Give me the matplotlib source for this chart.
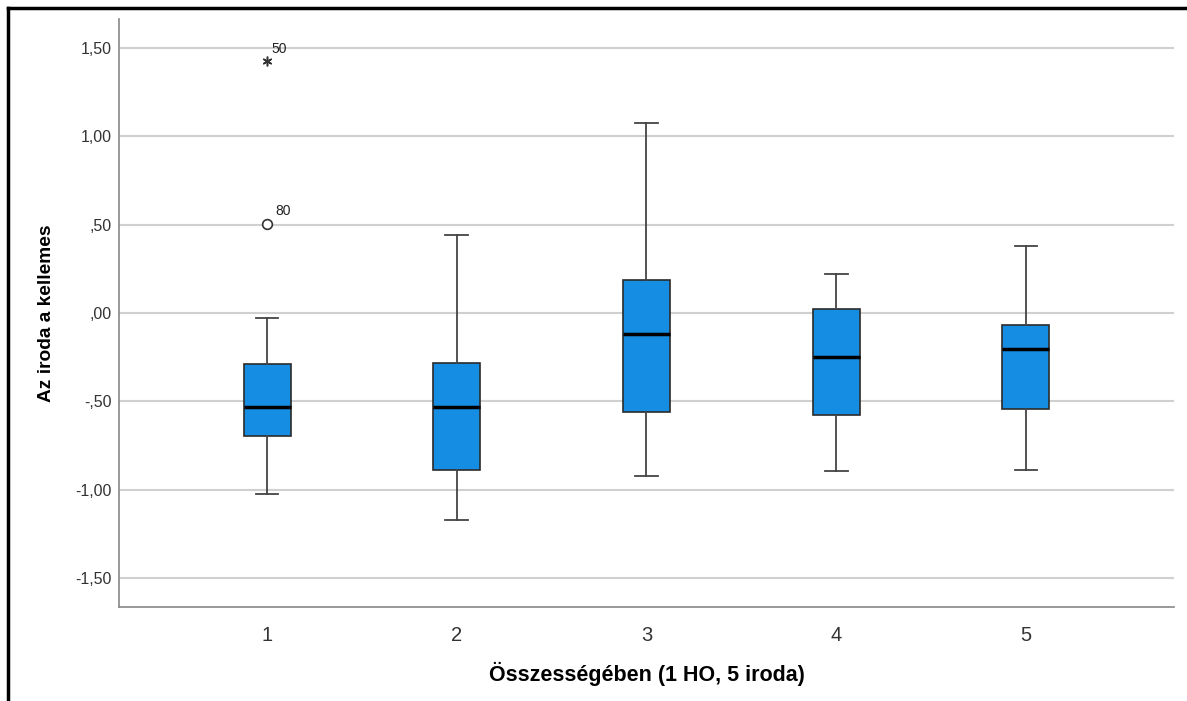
import matplotlib.pyplot as plt
from matplotlib.lines import Line2D

plt.rcParams['font.family'] = ['Liberation Sans', 'DejaVu Sans']

groups = [1, 2, 3, 4, 5]
whisk_lo = [-1.027, -1.173, -0.922, -0.894, -0.890]
q1 = [-0.698, -0.890, -0.560, -0.575, -0.545]
med = [-0.532, -0.532, -0.121, -0.249, -0.205]
q3 = [-0.286, -0.281, 0.189, 0.025, -0.066]
whisk_hi = [-0.026, 0.444, 1.075, 0.223, 0.379]

# outliers of group 1: (value, case id, marker)
outliers = [(0.502, '80', 'o'), (1.424, '50', '*')]

yticks = [-1.5, -1.0, -0.5, 0.0, 0.5, 1.0, 1.5]
ytick_labels = ['-1,50', '-1,00', '-,50', ',00', ',50', '1,00', '1,50']

stats = []
for i in range(len(groups)):
    stats.append({'whislo': whisk_lo[i], 'q1': q1[i], 'med': med[i],
                  'q3': q3[i], 'whishi': whisk_hi[i], 'fliers': []})

fig = plt.figure(figsize=(11.87, 7.01), dpi=100)
ax = fig.add_axes([0.1003, 0.1341, 0.8887, 0.8388])

ax.set_axisbelow(True)
ax.yaxis.grid(True, color='#d0d0d0', linewidth=1.5)

ax.bxp(stats, positions=groups, widths=0.248, patch_artist=True,
       boxprops=dict(facecolor='#148de3', edgecolor='#2b2b2b', linewidth=1.2),
       medianprops=dict(color='black', linewidth=2.5),
       whiskerprops=dict(color='#444444', linewidth=1.3),
       capprops=dict(color='#444444', linewidth=1.3),
       capwidths=0.12, showfliers=False)

for val, case, mk in outliers:
    if mk == 'o':
        ax.plot(1, val, marker='o', markersize=7, markerfacecolor='white',
                markeredgecolor='#333333', markeredgewidth=1.2, linestyle='none')
        ax.annotate(case, (1, val), xytext=(6, 7), textcoords='offset points',
                    fontsize=10, color='#222222')
    else:
        ax.plot(1, val, marker=(6, 2, 0), markersize=7, color='#333333',
                markeredgewidth=1.1, linestyle='none')
        ax.annotate(case, (1, val), xytext=(3, 6), textcoords='offset points',
                    fontsize=10, color='#222222')

ax.set_xlim(0.22, 5.78)
ax.set_ylim(-1.664, 1.664)
ax.set_xticks(groups)
ax.set_xticklabels([str(g) for g in groups], fontsize=14.5, color='#333333')
ax.set_yticks(yticks)
ax.set_yticklabels(ytick_labels, fontsize=11.5, color='#333333')
ax.tick_params(axis='both', length=0)
ax.tick_params(axis='x', pad=14)
ax.tick_params(axis='y', pad=5)

for s in ['top', 'right']:
    ax.spines[s].set_visible(False)
for s in ['left', 'bottom']:
    ax.spines[s].set_color('#888888')
    ax.spines[s].set_linewidth(1.2)

ax.set_xlabel('Összességében (1 HO, 5 iroda)', fontsize=15.5, fontweight='bold')
ax.set_ylabel('Az iroda a kellemes', fontsize=13.8, fontweight='bold')
ax.xaxis.set_label_coords(0.5, -0.093)
ax.yaxis.set_label_coords(-0.0607, 0.5)

# outer frame (left and top)
fig.add_artist(Line2D([7.5 / 1187, 7.5 / 1187], [0, 1 - 8 / 701], color='black', linewidth=2.5))
fig.add_artist(Line2D([7.5 / 1187, 1], [1 - 8 / 701, 1 - 8 / 701], color='black', linewidth=2.5))

plt.savefig('out.png', dpi=100)
